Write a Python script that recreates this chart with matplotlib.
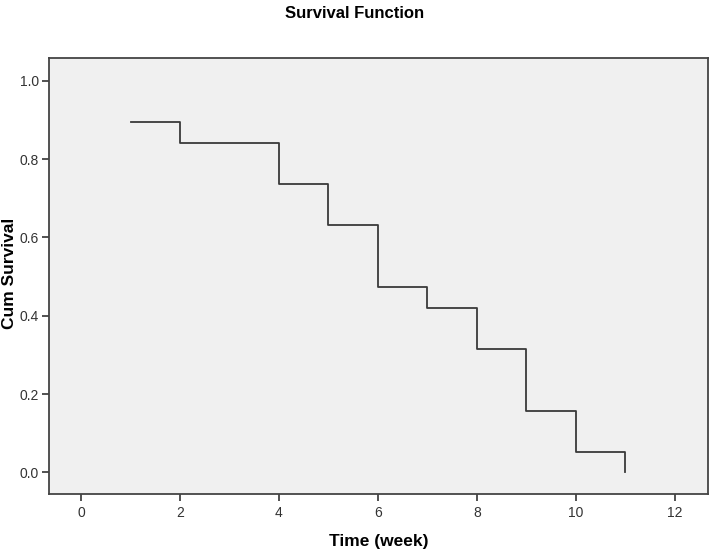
import matplotlib
matplotlib.use("Agg")
import matplotlib.pyplot as plt

# Kaplan-Meier step values
times = [1, 2, 4, 5, 6, 7, 8, 9, 10, 11]
survival = [0.895, 0.842, 0.737, 0.632, 0.474, 0.421, 0.316, 0.158, 0.053, 0.0]

x_ticks = [0, 2, 4, 6, 8, 10, 12]
y_ticks = [0.0, 0.2, 0.4, 0.6, 0.8, 1.0]

plt.rcParams["font.family"] = ["Liberation Sans", "DejaVu Sans"]

fig = plt.figure(figsize=(7.09, 5.52), dpi=100)
ax = fig.add_axes([0.069, 0.105, 0.9295, 0.79])
ax.set_facecolor("#f0f0f0")

ax.step(times, survival, where="post", color="#3a3a3a", linewidth=1.3)

ax.set_xlim(-0.65, 12.67)
ax.set_ylim(-0.055, 1.058)
ax.set_xticks(x_ticks)
ax.set_xticklabels([str(t) for t in x_ticks])
ax.set_yticks(y_ticks)
ax.set_yticklabels([f"{v:.1f}" for v in y_ticks])
ax.tick_params(colors="#333333", labelsize=10, length=5, width=1.2)
ax.tick_params(axis="y", pad=2)
for s in ax.spines.values():
    s.set_color("#444444")
    s.set_linewidth(1.3)

ax.set_xlabel("Time (week)", fontsize=12.5, fontweight="bold", labelpad=10)
# y label placed by hand, it sits right at the left edge in the original
fig.text(9.5 / 709, 0.505, "Cum Survival", rotation=90, ha="center", va="center",
         fontsize=12.5, fontweight="bold")
fig.suptitle("Survival Function", fontsize=12, fontweight="bold", y=0.99)

fig.savefig("out.png", dpi=100)
